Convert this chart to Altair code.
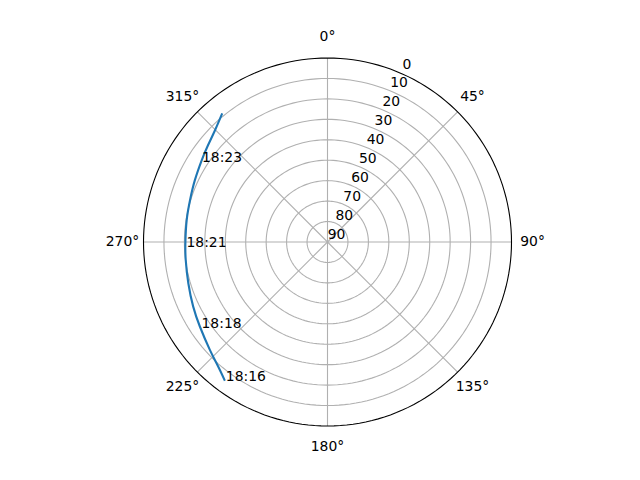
import altair as alt
import pandas as pd

# Satellite track: azimuth (deg, clockwise from north) and elevation (deg)
track_az = [216.5, 221.2, 227.4, 236.4, 244.3, 253.5, 262.8, 270.0,
            278.9, 287.0, 295.1, 303.1, 308.4, 314.9, 320.7]
track_el = [5.6, 8.9, 11.9, 15.1, 17.1, 19.0, 20.1, 20.5,
            20.3, 19.7, 18.4, 16.6, 15.0, 12.4, 8.7]

time_labels = ["18:16", "18:18", "18:21", "18:23"]
time_az = [216.5, 235.9, 268.0, 302.3]
time_el = [5.6, 15.0, 20.5, 16.8]

ring_values = [10, 20, 30, 40, 50, 60, 70, 80]
radial_ticks = [0, 10, 20, 30, 40, 50, 60, 70, 80, 90]
angle_ticks = [0, 45, 90, 135, 180, 225, 270, 315]
angle_labels = [f"{a}°" for a in angle_ticks]

FONT = "DejaVu Sans"
FS = 13.9

xs = alt.Scale(domain=[-90, 90], nice=False, zero=False)
ys = alt.Scale(domain=[-90, 90], nice=False, zero=False)

def X(f="px"):
    return alt.X(f"{f}:Q", scale=xs, axis=None)

def Y(f="py"):
    return alt.Y(f"{f}:Q", scale=ys, axis=None)

PX = "(90 - datum.el) * sin(datum.az * PI / 180)"
PY = "(90 - datum.el) * cos(datum.az * PI / 180)"

# grid rings (sampled around the circle)
ring_rows = [{"el": r, "az": a, "ring": r} for r in ring_values for a in range(0, 361, 2)]
rings = alt.Chart(pd.DataFrame(ring_rows)).transform_calculate(
    px=PX, py=PY
).mark_line(color="#b0b0b0", strokeWidth=1.1).encode(
    x=X(), y=Y(), detail="ring:N", order="az:Q"
)

outer_rows = [{"el": 0, "az": a} for a in range(0, 361, 2)]
outer = alt.Chart(pd.DataFrame(outer_rows)).transform_calculate(
    px=PX, py=PY
).mark_line(color="black", strokeWidth=1.1).encode(
    x=X(), y=Y(), order="az:Q"
)

spokes = alt.Chart(pd.DataFrame({"az": angle_ticks})).transform_calculate(
    px="0", py="0",
    px2="90 * sin(datum.az * PI / 180)", py2="90 * cos(datum.az * PI / 180)"
).mark_rule(color="#b0b0b0", strokeWidth=1.1).encode(
    x=X(), y=Y(), x2="px2:Q", y2="py2:Q"
)

alabels = alt.Chart(pd.DataFrame({"az": angle_ticks, "label": angle_labels})).transform_calculate(
    px="100.3 * sin(datum.az * PI / 180)", py="100.3 * cos(datum.az * PI / 180)"
).mark_text(font=FONT, fontSize=FS, color="black", align="center", baseline="middle").encode(
    x=X(), y=Y(), text="label:N"
)

rlabels = alt.Chart(pd.DataFrame({"el": radial_ticks, "az": [22.5] * len(radial_ticks)})).transform_calculate(
    px=PX, py=PY
).mark_text(font=FONT, fontSize=FS, color="black", align="center", baseline="middle",
            dx=9, dy=-7.5).encode(
    x=X(), y=Y(), text="el:Q"
)

track_df = pd.DataFrame({"az": track_az, "el": track_el, "i": list(range(len(track_az)))})
track = alt.Chart(track_df).transform_calculate(
    px=PX, py=PY
).mark_line(color="#1f77b4", strokeWidth=2.1, interpolate="natural").encode(
    x=X(), y=Y(), order="i:Q"
)

tl_df = pd.DataFrame({"az": time_az, "el": time_el, "label": time_labels})
tlabels = alt.Chart(tl_df).transform_calculate(
    px=PX, py=PY
).mark_text(font=FONT, fontSize=FS, color="black", align="left", baseline="alphabetic", dx=1).encode(
    x=X(), y=Y(), text="label:N"
)

chart = alt.layer(rings, spokes, outer, track, tlabels, rlabels, alabels).properties(
    width=368, height=368,
    padding={"left": 135.5, "top": 50, "right": 110, "bottom": 50},
    autosize=alt.AutoSizeParams(type="none"),
).configure_view(stroke=None)

chart.save("out.html", embed_options={"renderer": "svg", "actions": False})
